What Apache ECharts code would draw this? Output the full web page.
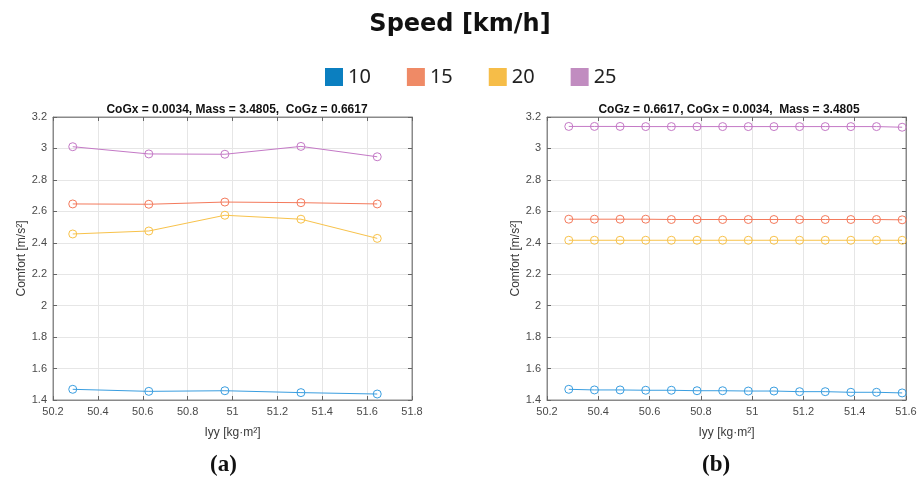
<!DOCTYPE html>
<html>
<head>
<meta charset="utf-8">
<script src="https://cdn.jsdelivr.net/npm/echarts@6/dist/echarts.min.js"></script>
<style>html,body{margin:0;padding:0;background:#fff}#c{width:920px;height:482px}</style>
</head>
<body>
<div id="c"></div>
<script>
// ---- data ----
const speeds = ['10', '15', '20', '25'];
const legendColors = ['#0b7fc0', '#ef8a66', '#f6bd48', '#c18cc0'];
const lineColors = ['#3a9ee0', '#f47a5c', '#f8c24a', '#c479c6'];

// (a) CoGx = 0.0034, Mass = 3.4805, CoGz = 0.6617
const iyyA = [50.288, 50.627, 50.966, 51.305, 51.645];
const a10 = [1.468, 1.455, 1.459, 1.447, 1.438];
const a15 = [2.647, 2.645, 2.659, 2.655, 2.647];
const a20 = [2.456, 2.475, 2.575, 2.550, 2.428];
const a25 = [3.011, 2.965, 2.963, 3.013, 2.947];

// (b) CoGz = 0.6617, CoGx = 0.0034, Mass = 3.4805
const iyyB = [50.285, 50.385, 50.485, 50.585, 50.685, 50.785, 50.885, 50.985, 51.085, 51.185, 51.285, 51.385, 51.485, 51.585];
const b10 = [1.468, 1.464, 1.464, 1.462, 1.462, 1.459, 1.459, 1.457, 1.457, 1.453, 1.453, 1.449, 1.449, 1.445];
const b15 = [2.550, 2.550, 2.550, 2.550, 2.548, 2.548, 2.548, 2.548, 2.548, 2.548, 2.548, 2.548, 2.548, 2.546];
const b20 = [2.416, 2.416, 2.416, 2.416, 2.416, 2.416, 2.416, 2.416, 2.416, 2.416, 2.416, 2.416, 2.416, 2.416];
const b25 = [3.140, 3.140, 3.140, 3.139, 3.139, 3.139, 3.139, 3.139, 3.139, 3.139, 3.139, 3.139, 3.139, 3.135];

const xTicksA = {min: 50.2, max: 51.8, interval: 0.2};
const xTicksB = {min: 50.2, max: 51.6, interval: 0.2};
const yTicks = {min: 1.4, max: 3.2, interval: 0.2};

const titleA = 'CoGx = 0.0034, Mass = 3.4805,  CoGz = 0.6617';
const titleB = 'CoGz = 0.6617, CoGx = 0.0034,  Mass = 3.4805';
const xName = 'Iyy [kg·m²]';
const yName = 'Comfort [m/s²]';

// ---- build ----
const axFont = {fontFamily: 'Liberation Sans', fontSize: 11, color: '#4a4a4a'};
const axLine = {show: true, lineStyle: {color: '#8a8a8a', width: 1}};
const tick = {show: true, inside: true, length: 4, lineStyle: {color: '#666'}};
const split = {show: true, lineStyle: {color: '#e6e6e6', width: 1}};

function fmt(v) { return String(Math.round(v * 10) / 10); }

const grids = [
  {left: 53, right: 508, top: 117, bottom: 82, show: true, borderColor: '#8a8a8a', borderWidth: 1},
  {left: 547, right: 14, top: 117, bottom: 82, show: true, borderColor: '#8a8a8a', borderWidth: 1}
];

const xAxes = [], yAxes = [];
[xTicksA, xTicksB].forEach((t, g) => {
  xAxes.push({type: 'value', gridIndex: g, min: t.min, max: t.max, interval: t.interval,
    axisLine: axLine, axisTick: tick, splitLine: split,
    axisLabel: Object.assign({formatter: fmt, margin: 6}, axFont),
    name: xName, nameLocation: 'middle', nameGap: 27,
    nameTextStyle: {fontFamily: 'Liberation Sans', fontSize: 12, color: '#3a3a3a'}});
  xAxes.push({type: 'value', gridIndex: g, position: 'top', min: t.min, max: t.max, interval: t.interval,
    axisLine: axLine, axisTick: tick, splitLine: {show: false}, axisLabel: {show: false}});
  yAxes.push({type: 'value', gridIndex: g, min: yTicks.min, max: yTicks.max, interval: yTicks.interval,
    axisLine: axLine, axisTick: tick, splitLine: split,
    axisLabel: Object.assign({formatter: fmt, margin: 6}, axFont),
    name: yName, nameLocation: 'middle', nameGap: 24,
    nameTextStyle: {fontFamily: 'Liberation Sans', fontSize: 12, color: '#3a3a3a'}});
  yAxes.push({type: 'value', gridIndex: g, position: 'right', min: yTicks.min, max: yTicks.max, interval: yTicks.interval,
    axisLine: axLine, axisTick: tick, splitLine: {show: false}, axisLabel: {show: false}});
});

const series = [];
const setsA = [a10, a15, a20, a25];
const setsB = [b10, b15, b20, b25];
function mk(name, xs, ys, g, ci) {
  return {name: name, type: 'line', xAxisIndex: g * 2, yAxisIndex: g * 2,
    data: xs.map((x, i) => [x, ys[i]]),
    symbol: 'circle', symbolSize: 8, showSymbol: true,
    lineStyle: {color: lineColors[ci], width: 1},
    itemStyle: {color: 'rgba(255,255,255,0)', borderColor: lineColors[ci], borderWidth: 1},
    color: lineColors[ci], animation: false, z: 3};
}
speeds.forEach((s, i) => {
  series.push(mk(s, iyyA, setsA[i], 0, i));
  series.push(mk(s, iyyB, setsB[i], 1, i));
});

const option = {
  backgroundColor: '#fff',
  animation: false,
  title: [
    {text: 'Speed [km/h]', left: 'center', top: 8,
      textStyle: {fontFamily: 'DejaVu Sans', fontWeight: 'bold', fontSize: 24, color: '#111'}},
    {text: titleA, left: 232, top: 99, textAlign: 'center',
      textStyle: {fontFamily: 'Liberation Sans', fontWeight: 'bold', fontSize: 12, color: '#111'}},
    {text: titleB, left: 724, top: 99, textAlign: 'center',
      textStyle: {fontFamily: 'Liberation Sans', fontWeight: 'bold', fontSize: 12, color: '#111'}}
  ],
  legend: {
    top: 62, left: 320, icon: 'rect', itemWidth: 18, itemHeight: 18, itemGap: 36,
    textStyle: {fontFamily: 'Noto Sans', fontSize: 20, color: '#222'},
    data: speeds.map((s, i) => ({name: s, itemStyle: {color: legendColors[i], borderWidth: 0}}))
  },
  grid: grids,
  xAxis: xAxes,
  yAxis: yAxes,
  series: series,
  graphic: [
    {type: 'text', left: 210, top: 454, style: {text: '(a)', font: 'bold 23px "Liberation Serif"', fill: '#111'}},
    {type: 'text', left: 702, top: 454, style: {text: '(b)', font: 'bold 23px "Liberation Serif"', fill: '#111'}}
  ]
};

const chart = echarts.init(document.getElementById('c'), null, {renderer: 'canvas'});
chart.setOption(option);
</script>
</body>
</html>
